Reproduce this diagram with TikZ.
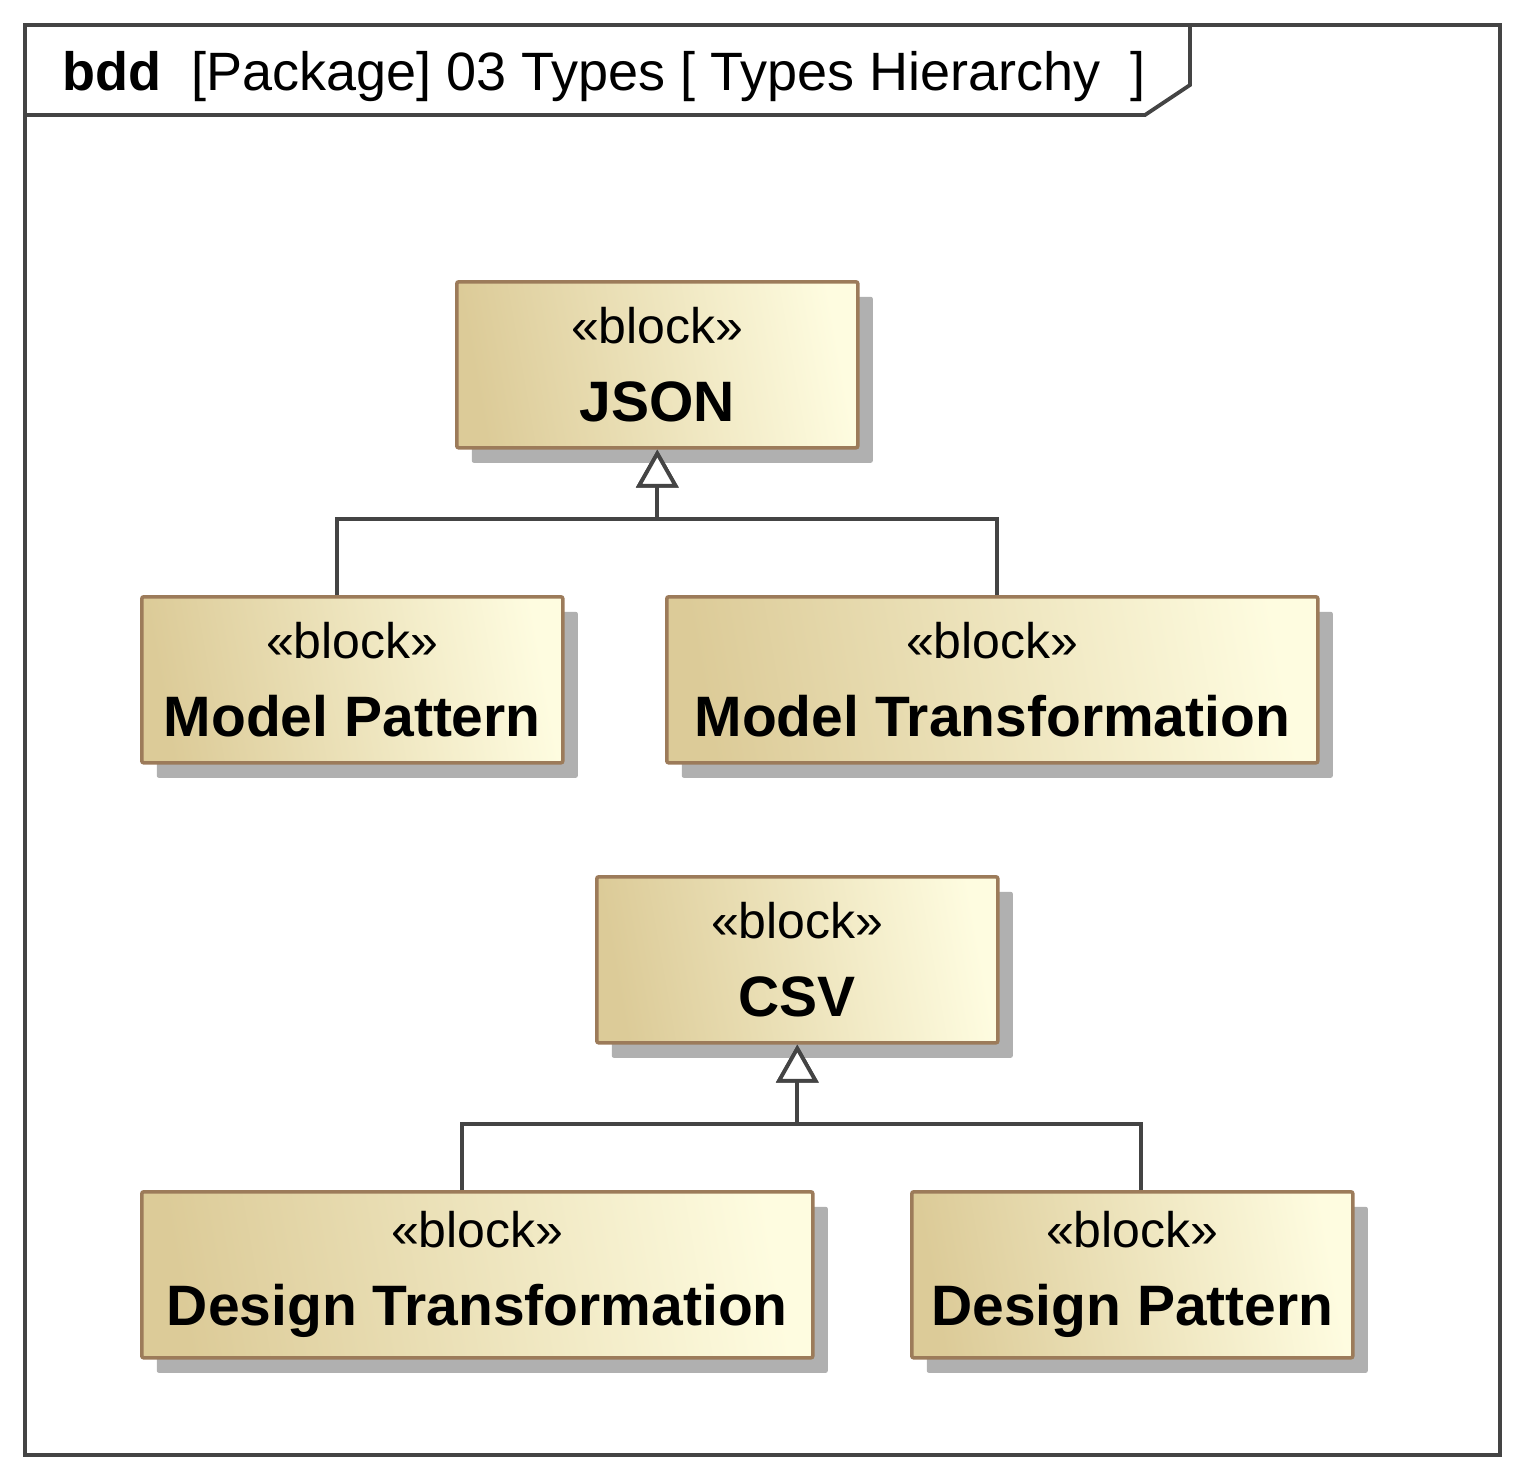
\documentclass[tikz,border=0pt]{standalone}
\usepackage{fontspec}
\setmainfont{Liberation Sans}
\usetikzlibrary{arrows.meta}
\usetikzlibrary{calc}
\usetikzlibrary{shadows}
\definecolor{frameline}{HTML}{444444}
\definecolor{blockline}{HTML}{9C7B5A}
\definecolor{blockdark}{HTML}{DCCB98}
\definecolor{blocklight}{HTML}{FEFCE0}
\definecolor{blockshadow}{HTML}{B0B0B0}
\tikzset{
  block/.style={draw=blockline, line width=1.8pt, rounded corners=1pt,
    left color=blockdark, right color=blocklight, shading angle=100,
    drop shadow={shadow xshift=7.5pt, shadow yshift=-7.5pt, fill=blockshadow, opacity=1},
    anchor=north west, inner sep=0pt, align=center},
  gen/.style={draw=frameline, line width=1.9pt,
    -{Triangle[open, length=19pt, width=21pt, fill=white]}},
}
\newcommand{\blk}[3]{\parbox[c][#3][c]{#2}{\centering
  \fontsize{25pt}{30pt}\selectfont\guillemotleft block\guillemotright\\[7pt]
  \fontsize{28.5pt}{32pt}\selectfont\bfseries #1}}
\begin{document}
\begin{tikzpicture}[x=0.5pt, y=-0.5pt]
  \useasboundingbox (0,0) rectangle (1525,1480);

  % frame
  \draw[frameline, line width=1.9pt] (25,25) rectangle (1500,1455);
  \draw[frameline, line width=1.9pt] (25,115) -- (1145,115) -- (1190,85) -- (1190,25);
  \node[anchor=base west, inner sep=0pt, font=\fontsize{27pt}{32pt}\selectfont] (title) at (62,90)
    {\textbf{bdd}\ \ [Package]\ 03 Types [\ Types Hierarchy\ \ ]};

  % blocks
  \node[block] (json) at (455,280) {\blk{JSON}{200.5pt}{83pt}};
  \node[block] (mpat) at (140,595) {\blk{Model Pattern}{210.5pt}{83pt}};
  \node[block] (mtra) at (665,595) {\blk{Model Transformation}{325.5pt}{83pt}};
  \node[block] (csv)  at (595,875) {\blk{CSV}{200.5pt}{83pt}};
  \node[block] (dtra) at (140,1190) {\blk{Design Transformation}{335.5pt}{83pt}};
  \node[block] (dpat) at (910,1190) {\blk{Design Pattern}{220.5pt}{83pt}};

  % generalizations
  \coordinate (jj) at ($(json.south)+(0,69)$);
  \coordinate (cj) at ($(csv.south)+(0,79)$);
  \draw[gen] ([xshift=-7.5pt]mpat.north) |- (jj) -- (json.south);
  \draw[gen] ([xshift=2.5pt]mtra.north) |- (jj) -- (json.south);
  \draw[gen] ([xshift=-7.5pt]dtra.north) |- (cj) -- (csv.south);
  \draw[gen] ([xshift=4.5pt]dpat.north) |- (cj) -- (csv.south);
\end{tikzpicture}
\end{document}
